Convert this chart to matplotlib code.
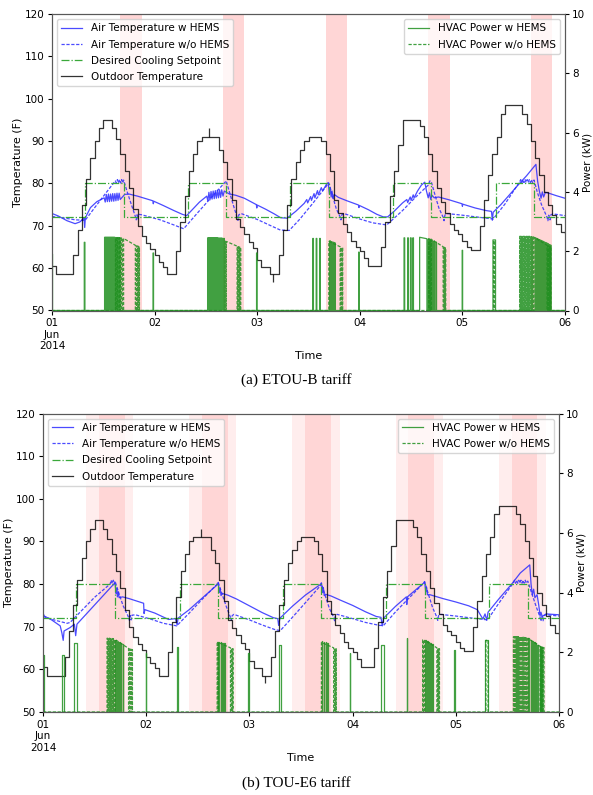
import matplotlib
matplotlib.use("Agg")
import matplotlib.pyplot as plt

# ---------------------------------------------------------------------------
# Data (time axis in hours from 2014-06-01 00:00)
# ---------------------------------------------------------------------------
DAY_TICKS = [0, 24, 48, 72, 96, 120]
DAY_LABELS = ["01\nJun\n2014", "02", "03", "04", "05", "06"]

# hourly outdoor dry-bulb temperature (F), drawn as a step series
OUTDOOR_F = [
    60.5, 58.5, 58.5, 58.5, 58.5, 63, 69, 75, 81, 86, 90, 93, 95, 95, 93, 90.5, 87, 83, 79, 74, 70, 67.5, 66, 64.5,
    63, 61.5, 60.3, 58.5, 58.5, 64, 71, 77, 83, 87, 90, 91, 91, 91, 91, 88, 85, 81, 76, 71.5, 69.8, 68, 66.2, 64.7,
    62, 60.3, 60.3, 58.5, 58.5, 63, 69, 75, 81, 85, 88, 90, 91, 91, 91, 90, 87, 83, 76, 73, 70.5, 68.5, 66.5, 65,
    64, 62.5, 60.5, 60.5, 60.5, 65, 71, 77, 83, 89, 95, 95, 95, 95, 93.5, 91, 87, 83, 79, 75.5, 73, 70.5, 69, 68,
    66.5, 65, 64.2, 64.2, 70, 76, 82, 87, 91, 96.5, 98.4, 98.4, 98.4, 98.4, 96.5, 94, 90, 86, 82, 78, 75, 72.5, 70.5, 68.5,
    68.3,
]
# short sensor glitches in the weather file: (hour, value)
OUTDOOR_SPIKES = [(36.8, 93.0), (51.6, 56.8)]

# thermostat schedule
SETPOINT_DAY_F = 80
SETPOINT_NIGHT_F = 72
SETPOINT_DAY_HOURS = (7.75, 16.75)

# tariff windows (hour of day)
ETOUB_PEAK = [(16, 21)]
E6_PARTIAL_PEAK = [(10, 13), (19, 21)]
E6_PEAK = [(13, 19)]

# ---- (a) ETOU-B: indoor air temperature (hour, F) ----
ETOUB_AIR_HEMS = [
    (0, 72.9), (1.5, 72.3), (3.5, 71.2), (5.4, 70.5), (6.5, 70.9), (7.5, 71.8), (7.65, 69.6), (7.8, 71.9),
    (9, 74.3), (10.5, 75.7), (12.2, 76.6),
    (12.45, 75.6), (12.7, 77.4), (12.95, 75.7), (13.2, 77.5), (13.45, 75.7), (13.7, 77.5), (13.95, 75.8),
    (14.2, 77.6), (14.45, 75.8), (14.7, 77.6), (14.95, 75.9), (15.2, 77.7), (15.45, 76.0), (15.7, 77.7),
    (15.95, 76.2), (17.0, 77.4), (18.0, 77.5), (20.0, 77.0), (22.0, 76.4), (23.6, 75.9), (23.7, 75.2),
    (23.8, 75.8), (26, 74.8), (28.5, 73.6), (30.5, 72.7), (31.5, 72.4),
    (33, 74.0), (34.5, 75.6), (36.2, 77.0), (36.45, 75.9), (36.7, 77.9), (36.95, 76.1), (37.2, 78.1),
    (37.45, 76.3), (37.7, 78.2), (37.95, 76.4), (38.2, 78.3), (38.45, 76.5), (38.7, 78.4), (38.95, 76.6),
    (39.2, 78.5), (39.45, 76.7), (39.7, 78.5), (40.0, 77.0), (40.3, 78.2), (41.5, 77.5), (43, 77.2),
    (45, 76.5), (47.8, 75.0), (47.9, 74.2), (48.0, 74.9), (50, 73.9), (52, 72.8), (53.5, 71.9), (55, 71.8),
    (57, 73.4), (59, 75.3), (59.6, 76.2), (59.8, 75.4), (60.5, 76.9), (60.7, 76.0), (61.3, 77.6), (61.5, 76.6),
    (62.1, 78.3), (62.3, 77.3), (63, 79.0), (63.3, 78.2), (64.2, 79.8), (64.6, 80.2), (64.9, 77.5),
    (65.1, 79.0), (65.3, 76.8), (65.5, 78.2), (65.7, 76.5), (66.0, 77.4), (67, 76.7), (69, 75.9),
    (71.7, 74.9), (71.8, 74.3), (71.9, 74.8), (74, 73.8), (76, 72.7), (77.5, 72.1), (78.5, 72.1),
    (80, 73.4), (82, 75.4), (83, 76.2), (83.2, 75.5), (83.8, 76.8), (84, 76.0), (84.5, 77.3), (84.7, 76.6),
    (85.5, 78.2), (86.4, 79.6), (87.2, 80.3), (87.6, 78.2), (88.0, 76.6), (88.3, 77.8), (88.6, 76.2),
    (88.9, 77.2), (89.4, 76.6), (90.4, 76.8), (93, 76.1), (95.9, 75.2), (96.0, 74.6), (96.1, 75.1),
    (99, 74.2), (101.5, 73.6), (102.8, 73.4), (103.0, 71.3), (103.2, 73.2),
    (105, 75.0), (107, 77.3), (109, 79.6), (111, 81.8), (113.2, 84.5), (113.6, 80.5), (114.0, 78.2),
    (114.4, 76.5), (114.7, 78.0), (115.0, 76.8), (115.4, 77.9), (116.5, 77.6), (118, 77.1), (120, 76.5),
]
ETOUB_AIR_BASE = [
    (0, 72.2), (3, 71.8), (5.5, 71.4), (7.75, 71.3), (10, 74.3), (12.5, 77.6), (14.8, 80.6),
    (15.05, 80.1), (15.3, 80.9), (15.55, 80.1), (15.8, 80.9), (16.05, 80.1), (16.3, 80.9), (16.55, 80.1),
    (16.75, 80.8), (17.5, 78.3), (18.5, 75.2), (19.5, 72.2), (19.7, 71.4), (19.9, 72.6), (20.1, 71.6),
    (20.3, 72.7), (21, 72.6), (25.3, 71.4), (28.5, 70.2), (30.8, 69.3),
    (34, 73.0), (37, 76.4), (40.5, 80.3), (40.75, 80.6), (41.5, 78.0), (42.5, 74.6), (43.3, 72.0),
    (43.5, 71.3), (43.7, 72.6), (44.2, 72.9), (48, 71.5), (51, 70.1), (53.4, 69.0), (55.5, 68.9),
    (58, 71.6), (61, 75.3), (64.75, 80.1), (65.5, 77.5), (66.5, 74.0), (67.4, 72.1), (67.6, 71.4),
    (67.8, 72.6), (68.3, 72.9), (72, 71.6), (75, 70.7), (78.3, 70.2),
    (82, 73.6), (85, 76.7), (88, 79.6), (88.4, 80.6), (88.75, 80.3), (89.5, 77.6), (90.5, 74.2),
    (91.5, 72.0), (91.7, 71.2), (91.9, 72.5), (92.3, 72.9), (96, 72.5), (100, 72.0), (103.2, 71.6),
    (106, 75.2), (109.4, 80.4), (109.65, 80.9), (109.9, 80.2), (110.15, 80.9), (110.4, 80.2),
    (110.65, 80.9), (110.9, 80.2), (111.15, 80.9), (111.4, 80.2), (111.65, 80.9), (111.9, 80.2),
    (112.15, 80.9), (112.4, 80.2), (112.75, 80.8), (113.5, 78.0), (114.5, 75.0), (115.8, 72.0),
    (116.0, 71.2), (116.2, 72.5), (116.5, 71.4), (116.7, 72.6), (117.2, 72.8), (120, 72.4),
]

# ---- (a) ETOU-B: HVAC power pulses (on hour, off hour, kW at on, kW at off) ----
ETOUB_HVAC_HEMS = [
    (0.0, 0.12, 1.9, 1.9), (7.55, 7.7, 2.3, 2.3),
    (12.30, 12.42, 2.47, 2.47), (12.55, 12.67, 2.47, 2.47), (12.80, 12.92, 2.47, 2.47),
    (13.05, 13.17, 2.47, 2.47), (13.30, 13.42, 2.47, 2.47), (13.55, 13.67, 2.47, 2.47),
    (13.80, 13.92, 2.47, 2.47), (14.05, 14.17, 2.47, 2.47), (14.30, 14.42, 2.47, 2.47),
    (14.55, 14.67, 2.47, 2.47), (14.80, 14.92, 2.46, 2.46), (15.05, 15.17, 2.46, 2.46),
    (15.30, 15.42, 2.46, 2.46), (15.55, 15.67, 2.46, 2.46), (15.80, 15.92, 2.45, 2.45),
    (23.65, 23.75, 1.94, 1.94),
    (36.40, 36.52, 2.45, 2.45), (36.65, 36.77, 2.45, 2.45), (36.90, 37.02, 2.45, 2.45),
    (37.15, 37.27, 2.45, 2.45), (37.40, 37.52, 2.45, 2.45), (37.65, 37.77, 2.45, 2.45),
    (37.90, 38.02, 2.45, 2.45), (38.15, 38.27, 2.45, 2.45), (38.40, 38.52, 2.45, 2.45),
    (38.65, 38.77, 2.45, 2.45), (38.90, 39.02, 2.44, 2.44), (39.15, 39.27, 2.44, 2.44),
    (39.40, 39.52, 2.44, 2.44), (39.65, 39.77, 2.44, 2.44), (39.90, 40.02, 2.43, 2.43),
    (40.20, 40.32, 2.43, 2.43),
    (47.85, 47.95, 1.94, 1.94),
    (61.0, 61.15, 2.43, 2.43), (61.8, 61.95, 2.43, 2.43), (62.6, 62.75, 2.43, 2.43),
    (64.95, 65.1, 2.35, 2.35), (65.35, 65.5, 2.32, 2.32), (65.75, 65.9, 2.30, 2.30), (66.1, 66.25, 2.28, 2.28),
    (71.75, 71.85, 1.97, 1.97),
    (82.35, 82.5, 2.45, 2.45), (83.2, 83.35, 2.45, 2.45), (83.85, 84.0, 2.45, 2.45), (84.4, 84.55, 2.45, 2.45),
    (86.0, 87.7, 2.47, 2.42), (88.0, 88.15, 2.40, 2.40), (88.4, 88.55, 2.38, 2.38), (88.8, 88.95, 2.36, 2.36),
    (89.3, 89.45, 2.34, 2.34), (89.8, 89.95, 2.30, 2.30),
    (95.95, 96.05, 2.03, 2.03),
    (103.15, 103.75, 2.38, 2.38),
    (113.0, 113.15, 2.45, 2.45), (113.3, 113.45, 2.43, 2.43), (113.6, 113.75, 2.41, 2.41),
    (113.9, 114.05, 2.39, 2.39), (114.2, 114.35, 2.37, 2.37), (114.5, 114.65, 2.35, 2.35),
    (114.8, 114.95, 2.33, 2.33), (115.1, 115.25, 2.31, 2.31), (115.4, 115.55, 2.29, 2.29),
    (115.7, 115.85, 2.27, 2.27), (116.0, 116.15, 2.25, 2.25), (116.3, 116.45, 2.22, 2.22),
    (116.6, 116.75, 2.20, 2.20),
]
ETOUB_HVAC_BASE = [
    (14.85, 15.0, 2.45, 2.45), (15.3, 15.45, 2.45, 2.45), (15.8, 15.95, 2.45, 2.45), (16.3, 16.45, 2.45, 2.45),
    (16.75, 19.5, 2.43, 2.20), (19.75, 19.85, 2.18, 2.18), (20.05, 20.15, 2.17, 2.17), (20.35, 20.45, 2.15, 2.15),
    (40.55, 40.68, 2.35, 2.35), (40.75, 43.3, 2.33, 2.17), (43.5, 43.6, 2.15, 2.15), (43.8, 43.9, 2.14, 2.14),
    (44.05, 44.15, 2.13, 2.13),
    (64.75, 67.4, 2.33, 2.15), (67.6, 67.7, 2.13, 2.13), (67.9, 68.0, 2.12, 2.12),
    (88.1, 88.25, 2.42, 2.42), (88.45, 88.6, 2.41, 2.41), (88.75, 91.5, 2.40, 2.15),
    (91.7, 91.8, 2.13, 2.13), (92.0, 92.1, 2.12, 2.12),
    (103.3, 103.5, 2.35, 2.35),
    (109.40, 109.52, 2.50, 2.50), (109.65, 109.77, 2.50, 2.50), (109.90, 110.02, 2.50, 2.50),
    (110.15, 110.27, 2.50, 2.50), (110.40, 110.52, 2.50, 2.50), (110.65, 110.77, 2.50, 2.50),
    (110.90, 111.02, 2.50, 2.50), (111.15, 111.27, 2.50, 2.50), (111.40, 111.52, 2.50, 2.50),
    (111.65, 111.77, 2.50, 2.50), (111.90, 112.02, 2.50, 2.50), (112.15, 112.27, 2.49, 2.49),
    (112.40, 112.52, 2.49, 2.49),
    (112.75, 115.8, 2.47, 2.20), (116.0, 116.1, 2.18, 2.18), (116.3, 116.4, 2.17, 2.17), (116.6, 116.7, 2.16, 2.16),
]

# ---- (b) TOU-E6: indoor air temperature (hour, F) ----
E6_AIR_HEMS = [
    (0, 73.2), (0.3, 72.5), (2, 71.6), (4.0, 70.2), (4.4, 68.5), (4.7, 66.8), (4.9, 69.0), (6.3, 69.8),
    (7.3, 70.6), (7.6, 67.9), (7.9, 70.6), (10, 72.9), (13, 76.2), (16, 79.5), (16.75, 80.2),
    (17.0, 77.8), (17.15, 79.0), (17.3, 77.0), (17.5, 78.2), (17.7, 76.8), (18.5, 77.0), (20, 76.6),
    (23.4, 75.5), (23.5, 73.1), (23.7, 74.0), (26, 73.2), (29.2, 71.7), (30.8, 71.9), (31.2, 70.4), (31.4, 72.0),
    (34, 74.0), (37, 76.7), (40.5, 79.8), (40.75, 80.4), (41.0, 78.0), (41.2, 79.0), (41.4, 77.3),
    (41.7, 77.8), (43, 77.4), (45, 76.5), (48, 74.9), (51, 73.3), (53.6, 72.1), (54.6, 71.9), (54.8, 70.3), (55.1, 72.0),
    (58, 74.8), (61, 77.4), (64.5, 79.9), (64.75, 80.3), (65.0, 78.0), (65.2, 79.2), (65.4, 77.3),
    (65.7, 77.6), (67, 77.2), (69, 76.3), (72, 75.0), (75, 73.5), (77.5, 72.4), (78.6, 72.2), (78.9, 70.2), (79.2, 72.0),
    (82, 74.8), (84.5, 77.0), (84.6, 75.2), (84.75, 77.0), (88.5, 80.2), (88.75, 80.6), (89.0, 78.2),
    (89.2, 79.3), (89.4, 77.5), (90, 77.5), (93, 76.6), (96, 75.8), (99, 74.9), (101, 74.0), (102.3, 71.8),
    (102.8, 73.0), (103.2, 71.5), (103.5, 73.4),
    (106, 76.5), (109, 80.0), (111, 82.6), (113.2, 84.5), (113.5, 80.0), (113.8, 77.5), (114.1, 78.8),
    (114.4, 76.8), (114.9, 77.5), (115.3, 75.0), (115.6, 72.5), (115.8, 73.4), (116.1, 72.4), (117, 73.0), (120, 72.8),
]
E6_AIR_BASE = [
    (0, 72.4), (2.5, 71.6), (5.6, 70.8), (6.3, 71.0), (9, 73.8), (12, 76.9), (15.6, 80.0), (15.85, 80.9),
    (16.1, 80.1), (16.35, 80.9), (16.6, 80.1), (16.75, 80.7), (17.6, 78.0), (18.6, 75.0), (19.9, 72.2),
    (20.1, 71.5), (20.3, 72.6), (20.5, 71.6), (20.7, 72.7), (21.5, 72.8), (25, 71.8), (28, 70.8), (31.1, 70.2),
    (34, 73.2), (37, 76.4), (40.4, 79.9), (40.75, 80.4), (41.6, 77.8), (42.6, 74.8), (43.6, 72.2),
    (43.8, 71.5), (44.0, 72.6), (44.4, 72.9), (48, 71.6), (51, 70.4), (54, 69.3), (55.2, 69.1),
    (58, 72.2), (61, 75.6), (64.5, 79.6), (64.75, 80.1), (65.6, 77.4), (66.6, 74.3), (67.6, 72.2),
    (67.8, 71.4), (68, 72.6), (68.4, 72.9), (72, 71.9), (75, 71.0), (78.3, 70.3), (79.2, 70.3),
    (82, 73.5), (85, 76.6), (88.2, 79.9), (88.75, 80.5), (89.6, 77.7), (90.6, 74.5), (91.6, 72.2),
    (91.8, 71.5), (92, 72.6), (92.4, 72.9), (96, 72.5), (100, 72.0), (103.4, 71.6),
    (106, 75.5), (109.4, 80.3), (109.65, 80.9), (109.9, 80.2), (110.15, 80.9), (110.4, 80.2),
    (110.65, 80.9), (110.9, 80.2), (111.15, 80.9), (111.4, 80.2), (111.65, 80.9), (111.9, 80.2),
    (112.15, 80.9), (112.4, 80.2), (112.75, 80.7), (113.6, 78.0), (114.6, 75.0), (115.6, 72.2),
    (115.8, 71.3), (116.0, 72.5), (116.3, 71.4), (116.5, 72.6), (117, 72.8), (120, 72.5),
]

# ---- (b) TOU-E6: HVAC power pulses ----
E6_HVAC_HEMS = [
    (0.0, 0.12, 1.9, 1.9), (4.35, 5.0, 1.9, 1.9), (7.25, 7.85, 2.3, 2.3),
    (16.8, 17.0, 2.40, 2.40), (17.3, 17.45, 2.36, 2.36), (17.7, 17.85, 2.33, 2.33),
    (18.1, 18.25, 2.30, 2.30), (18.5, 18.65, 2.27, 2.27),
    (23.85, 23.95, 1.96, 1.96),
    (31.2, 31.45, 2.19, 2.19),
    (40.8, 41.0, 2.36, 2.36), (41.3, 41.45, 2.34, 2.34), (41.7, 41.85, 2.32, 2.32), (42.1, 42.25, 2.30, 2.30),
    (47.75, 47.85, 1.96, 1.96),
    (54.8, 55.3, 2.25, 2.25),
    (64.8, 65.0, 2.38, 2.38), (65.3, 65.45, 2.35, 2.35), (65.7, 65.85, 2.33, 2.33), (66.1, 66.25, 2.30, 2.30),
    (71.4, 71.5, 1.98, 1.98),
    (78.5, 79.4, 2.24, 2.24),
    (84.55, 84.65, 2.47, 2.47),
    (88.8, 89.0, 2.40, 2.40), (89.3, 89.45, 2.37, 2.37), (89.7, 89.85, 2.34, 2.34),
    (90.1, 90.25, 2.30, 2.30), (90.5, 90.65, 2.27, 2.27),
    (95.65, 95.75, 2.08, 2.08),
    (102.8, 103.6, 2.41, 2.41),
    (112.9, 113.1, 2.47, 2.47), (113.4, 113.55, 2.42, 2.42), (113.8, 113.95, 2.38, 2.38),
    (114.2, 114.35, 2.34, 2.34), (114.6, 114.75, 2.30, 2.30), (115.0, 115.15, 2.26, 2.26),
    (115.5, 115.65, 2.22, 2.22), (115.9, 116.05, 2.19, 2.19),
]
E6_HVAC_BASE = [
    (14.9, 15.02, 2.47, 2.47), (15.15, 15.27, 2.47, 2.47), (15.4, 15.52, 2.47, 2.47), (15.65, 15.77, 2.46, 2.46),
    (15.9, 16.02, 2.46, 2.46), (16.15, 16.27, 2.46, 2.46), (16.4, 16.52, 2.45, 2.45),
    (16.75, 19.9, 2.43, 2.13), (20.1, 20.2, 2.11, 2.11), (20.4, 20.5, 2.10, 2.10), (20.7, 20.8, 2.09, 2.09),
    (40.5, 40.65, 2.35, 2.35), (40.75, 43.6, 2.33, 2.15), (43.8, 43.9, 2.13, 2.13), (44.1, 44.2, 2.12, 2.12),
    (64.75, 67.6, 2.33, 2.15), (67.8, 67.9, 2.13, 2.13), (68.1, 68.2, 2.12, 2.12),
    (88.3, 88.45, 2.42, 2.42), (88.75, 91.6, 2.40, 2.15), (91.8, 91.9, 2.13, 2.13), (92.1, 92.2, 2.12, 2.12),
    (103.0, 103.5, 2.40, 2.40),
    (109.40, 109.52, 2.52, 2.52), (109.65, 109.77, 2.52, 2.52), (109.90, 110.02, 2.52, 2.52),
    (110.15, 110.27, 2.52, 2.52), (110.40, 110.52, 2.52, 2.52), (110.65, 110.77, 2.52, 2.52),
    (110.90, 111.02, 2.52, 2.52), (111.15, 111.27, 2.52, 2.52), (111.40, 111.52, 2.52, 2.52),
    (111.65, 111.77, 2.51, 2.51), (111.90, 112.02, 2.51, 2.51), (112.15, 112.27, 2.51, 2.51),
    (112.40, 112.52, 2.50, 2.50),
    (112.75, 115.6, 2.47, 2.20), (115.8, 115.9, 2.18, 2.18), (116.1, 116.2, 2.17, 2.17), (116.4, 116.5, 2.16, 2.16),
]

# ---------------------------------------------------------------------------
# Drawing helpers
# ---------------------------------------------------------------------------
N_DAYS = 5
BLUE = "#2b2bff"
GREEN = "#1f8f1f"
SET_GREEN = "#3aa83a"
FINE_DASH = (0, (2.6, 1.3))


def pulse_trace(pulses, t_end=24 * N_DAYS):
    xs, ys = [0.0], [0.0]
    for on, off, k_on, k_off in pulses:
        xs += [on, on, off, off]
        ys += [0.0, k_on, k_off, 0.0]
    xs.append(t_end)
    ys.append(0.0)
    return xs, ys


def setpoint_trace():
    xs, ys = [0.0], [SETPOINT_NIGHT_F]
    for d in range(N_DAYS):
        a, b = SETPOINT_DAY_HOURS
        xs += [24 * d + a, 24 * d + a, 24 * d + b, 24 * d + b]
        ys += [SETPOINT_NIGHT_F, SETPOINT_DAY_F, SETPOINT_DAY_F, SETPOINT_NIGHT_F]
    xs.append(24 * N_DAYS)
    ys.append(SETPOINT_NIGHT_F)
    return xs, ys


def draw_panel(fig, rect, light_windows, dark_windows, air_hems, air_base, hvac_hems, hvac_base):
    ax = fig.add_axes(rect)
    for d in range(N_DAYS):
        for a, b in light_windows:
            ax.axvspan(24 * d + a, 24 * d + b, color="red", alpha=0.07, lw=0, zorder=0)
        for a, b in dark_windows:
            ax.axvspan(24 * d + a, 24 * d + b, color="red", alpha=0.16, lw=0, zorder=0)

    ax.plot([p[0] for p in air_hems], [p[1] for p in air_hems], color=BLUE, lw=0.9, alpha=0.85,
            label="Air Temperature w HEMS")
    ax.plot([p[0] for p in air_base], [p[1] for p in air_base], color=BLUE, lw=0.9, alpha=0.85,
            ls=FINE_DASH, label="Air Temperature w/o HEMS")
    sx, sy = setpoint_trace()
    ax.plot(sx, sy, color=SET_GREEN, lw=0.9, ls="-.", label="Desired Cooling Setpoint")
    hours = list(range(len(OUTDOOR_F)))
    ax.step(hours, OUTDOOR_F, where="post", color="black", lw=0.9, alpha=0.8, label="Outdoor Temperature")
    for h, v in OUTDOOR_SPIKES:
        ax.vlines(h, OUTDOOR_F[int(h)], v, color="black", lw=0.9, alpha=0.8)

    ax.set_xlim(0, 24 * N_DAYS)
    ax.set_ylim(50, 120)
    ax.set_yticks(range(50, 121, 10))
    ax.set_xticks(DAY_TICKS)
    ax.set_xticklabels(DAY_LABELS)
    ax.set_ylabel("Temperature (F)", fontsize=8, labelpad=1)
    ax.set_xlabel("Time", fontsize=8, labelpad=0)
    ax.tick_params(labelsize=7.5, length=3, pad=2.5)
    ax.legend(loc="upper left", fontsize=7.5, labelspacing=0.6, framealpha=0.8)

    ax2 = ax.twinx()
    hx, hy = pulse_trace(hvac_hems)
    ax2.plot(hx, hy, color=GREEN, lw=0.9, alpha=0.85, label="HVAC Power w HEMS")
    bx, by = pulse_trace(hvac_base)
    ax2.plot(bx, by, color=GREEN, lw=0.9, alpha=0.85, ls=FINE_DASH, label="HVAC Power w/o HEMS")
    ax2.set_ylim(0, 10)
    ax2.set_yticks(range(0, 11, 2))
    ax2.set_ylabel("Power (kW)", fontsize=7.5, labelpad=-2)
    ax2.tick_params(labelsize=7.5, length=3, pad=2)
    ax2.legend(loc="upper right", fontsize=7.5, labelspacing=0.6, framealpha=0.8)
    for a in (ax, ax2):
        for s in a.spines.values():
            s.set_color("0.35")
            s.set_linewidth(0.8)
    return ax


W, H = 593, 795
fig = plt.figure(figsize=(W / 100, H / 100), dpi=100)


def frac_rect(left, top, right, bottom):
    return [left / W, 1 - bottom / H, (right - left) / W, (bottom - top) / H]


draw_panel(fig, frac_rect(52, 14, 565, 310.5), [], ETOUB_PEAK,
           ETOUB_AIR_HEMS, ETOUB_AIR_BASE, ETOUB_HVAC_HEMS, ETOUB_HVAC_BASE)
draw_panel(fig, frac_rect(43, 413.5, 559, 712), E6_PARTIAL_PEAK, E6_PEAK,
           E6_AIR_HEMS, E6_AIR_BASE, E6_HVAC_HEMS, E6_HVAC_BASE)

serif = ["Liberation Serif", "DejaVu Serif"]
fig.text(0.5, 1 - 380 / H, "(a) ETOU-B tariff", ha="center", va="center", fontsize=11, family=serif)
fig.text(0.5, 1 - 783 / H, "(b) TOU-E6 tariff", ha="center", va="center", fontsize=11, family=serif)

fig.savefig("out.png", dpi=100)
